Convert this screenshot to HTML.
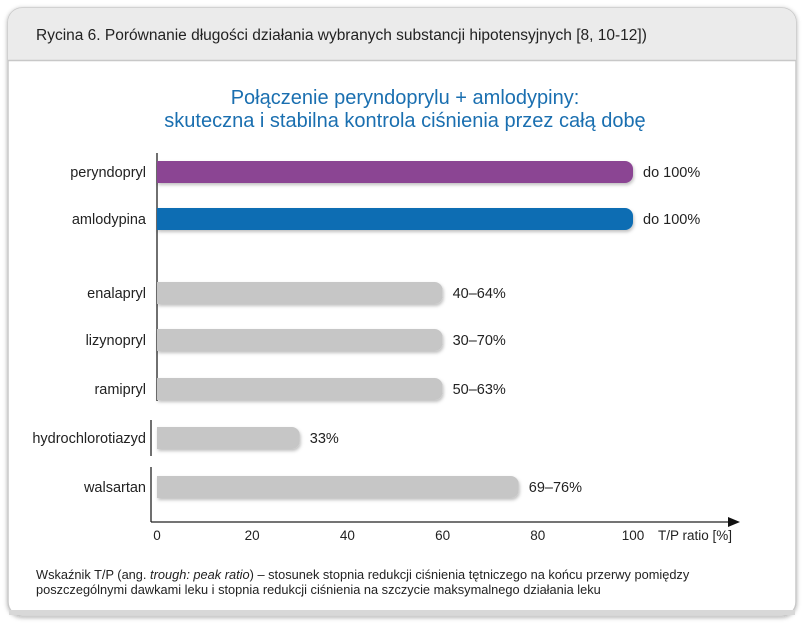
<!DOCTYPE html>
<html><head><meta charset="utf-8"><style>
body{margin:0;width:804px;height:623px;background:#fff;overflow:hidden;font-family:"Liberation Sans",sans-serif}
svg text{font-family:"Liberation Sans","Noto Sans CJK SC",sans-serif}
</style></head><body>
<svg width="804" height="623" viewBox="0 0 804 623" xmlns="http://www.w3.org/2000/svg">
<defs>
<filter id="sh" x="-5%" y="-30%" width="110%" height="170%"><feDropShadow dx="1" dy="2" stdDeviation="1.5" flood-color="#000" flood-opacity="0.25"/></filter>
<filter id="cs" x="-5%" y="-5%" width="110%" height="110%"><feDropShadow dx="0" dy="1" stdDeviation="2" flood-color="#000" flood-opacity="0.3"/></filter>
</defs>
<g>
<rect x="8" y="8" width="788" height="608" rx="14" fill="#fff" stroke="#c8c8c8" stroke-width="1.5" filter="url(#cs)"/>
<path d="M22 8 H782 A14 14 0 0 1 796 22 V60 H8 V22 A14 14 0 0 1 22 8 Z" fill="#ebebeb"/>
<line x1="8" y1="60.5" x2="796" y2="60.5" stroke="#c8c8c8" stroke-width="1.5"/>
<rect x="9" y="610" width="786" height="5" fill="#d8d8d8"/>
</g>
<text x="36" y="40" font-size="15.5" fill="#222">Rycina 6. Porównanie długości działania wybranych substancji hipotensyjnych [8, 10-12])</text>
<text x="405" y="104" font-size="20" fill="#1a6fb0" text-anchor="middle">Połączenie peryndoprylu + amlodypiny:</text>
<text x="405" y="127" font-size="20" fill="#1a6fb0" text-anchor="middle">skuteczna i stabilna kontrola ciśnienia przez całą dobę</text>
<g id="chart"></g>
<text x="36" y="579" font-size="12.8" fill="#222">Wskaźnik T/P (ang. <tspan font-style="italic">trough: peak ratio</tspan>) – stosunek stopnia redukcji ciśnienia tętniczego na końcu przerwy pomiędzy</text>
<text x="36" y="594" font-size="12.8" fill="#222">poszczególnymi dawkami leku i stopnia redukcji ciśnienia na szczycie maksymalnego działania leku</text>
</svg>
<script>
const categories=["peryndopryl","amlodypina","enalapryl","lizynopryl","ramipryl","hydrochlorotiazyd","walsartan"];
const values=[100,100,60,60,60,30,76];
const valueLabels=["do 100%","do 100%","40–64%","30–70%","50–63%","33%","69–76%"];
const ticks=[0,20,40,60,80,100];
const NS="http://www.w3.org/2000/svg";
const g=document.getElementById("chart");
const x=v=>157+v*4.76;
const rowY=[172,219,293,340,389,438,487];
const colors=["#8b4593","#0a6db3","#c6c6c6","#c6c6c6","#c6c6c6","#c6c6c6","#c6c6c6"];
function mk(t,a){const e=document.createElementNS(NS,t);for(const k in a)e.setAttribute(k,a[k]);g.appendChild(e);return e;}
let ax=mk("line",{x1:157,y1:153,x2:157,y2:401,stroke:"#222","stroke-width":1.3});


ax=mk("line",{x1:151,y1:420,x2:151,y2:456,stroke:"#222","stroke-width":1.3});


ax=mk("line",{x1:151,y1:467,x2:151,y2:522,stroke:"#222","stroke-width":1.3});


ax=mk("line",{x1:151,y1:522,x2:730,y2:522,stroke:"#222","stroke-width":1.3});


ax=mk("path",{d:"M728 517 L740 522 L728 527 Z",fill:"#111"});


ticks.forEach(t=>{
  const e=mk("text",{x:x(t),y:540,"font-size":13.5,fill:"#222","text-anchor":"middle"});
  e.textContent=t;
  
  
});
const at=mk("text",{x:658,y:540,"font-size":13.5,fill:"#222"});
at.textContent="T/P ratio [%]";


categories.forEach((c,i)=>{
  const y=rowY[i],h=22,x0=157,x1=x(values[i]),r=8;
  const b=mk("path",{d:`M${x0} ${y-h/2} H${x1-r} A${r} ${r} 0 0 1 ${x1} ${y-h/2+r} V${y+h/2-r} A${r} ${r} 0 0 1 ${x1-r} ${y+h/2} H${x0} Z`,fill:colors[i],filter:"url(#sh)"});
  
  
  const l=mk("text",{x:146,y:y+5,"font-size":14.5,fill:"#222","text-anchor":"end"});
  l.textContent=c;
  
  
  const v=mk("text",{x:x1+10,y:y+5,"font-size":14.5,fill:"#222"});
  v.textContent=valueLabels[i];
  
  
});
</script>
</body></html>
